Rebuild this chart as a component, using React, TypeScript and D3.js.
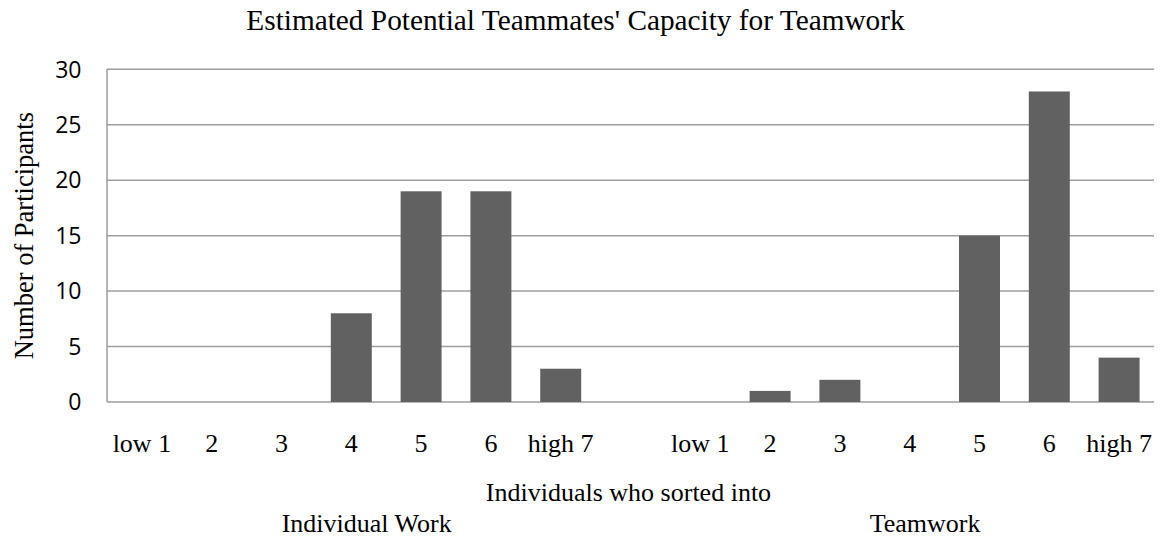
import React from "react";
import * as d3 from "d3";

const ratingLabels = ["low 1", "2", "3", "4", "5", "6", "high 7"];
const individualWork = [0, 0, 0, 8, 19, 19, 3];
const teamwork = [0, 1, 2, 0, 15, 28, 4];
const groupNames = ["Individual Work", "Teamwork"];
const yTicks = [0, 5, 10, 15, 20, 25, 30];
const title = "Estimated Potential Teammates' Capacity for Teamwork";
const yTitle = "Number of Participants";
const xTitle = "Individuals who sorted into";

type Slot = { key: string; label: string; value: number | null; group: number };

const slots: Slot[] = [
  ...ratingLabels.map((l, i) => ({ key: `g0-${i}`, label: l, value: individualWork[i], group: 0 })),
  { key: "gap", label: "", value: null, group: -1 },
  ...ratingLabels.map((l, i) => ({ key: `g1-${i}`, label: l, value: teamwork[i], group: 1 })),
];

export default function App() {
  const W = 1160;
  const H = 537;
  const left = 107;
  const right = 1154;
  const top = 69.3;
  const bottom = 402;
  const pad = 0.413;
  const serif = "'Liberation Serif', 'Times New Roman', serif";
  const sans = "'Open Sans', 'Liberation Sans', sans-serif";

  const x = d3
    .scaleBand<string>()
    .domain(slots.map((s) => s.key))
    .range([left, right])
    .paddingInner(pad)
    .paddingOuter(pad / 2);
  const y = d3.scaleLinear().domain([0, 30]).range([bottom, top]);
  const step = x.step();
  const center = (k: string) => (x(k) as number) + x.bandwidth() / 2;

  const groupCenter = (g: number) => {
    const ks = slots.filter((s) => s.group === g).map((s) => center(s.key));
    return (d3.min(ks)! + d3.max(ks)!) / 2;
  };

  return (
    <svg
      width={W}
      height={H}
      style={{ position: "absolute", left: 0, top: 0, background: "#fff" }}
    >
      <text x={575.5} y={30} textAnchor="middle" fontFamily={serif} fontSize={29.3} fill="#000">
        {title}
      </text>
      {yTicks.map((t) => (
        <g key={t}>
          <line x1={left} x2={right} y1={y(t)} y2={y(t)} stroke="#9d9d9d" strokeWidth={1.5} />
          <text
            x={81.5}
            y={y(t)}
            dy="0.36em"
            textAnchor="end"
            fontFamily={sans}
            fontSize={23}
            fill="#000"
          >
            {t}
          </text>
        </g>
      ))}
      <line x1={left} x2={left} y1={y(30)} y2={y(0)} stroke="#9d9d9d" strokeWidth={1.5} />
      {slots
        .filter((s) => s.value !== null && (s.value as number) > 0)
        .map((s) => (
          <rect
            key={s.key}
            x={x(s.key)}
            y={y(s.value as number)}
            width={x.bandwidth()}
            height={y(0) - y(s.value as number)}
            fill="#616161"
          />
        ))}
      {slots.map((s) => (
        <text
          key={"l" + s.key}
          x={center(s.key)}
          y={452}
          textAnchor="middle"
          fontFamily={serif}
          fontSize={26}
          fill="#000"
        >
          {s.label}
        </text>
      ))}
      <text x={(left + right) / 2 - 2} y={501} textAnchor="middle" fontFamily={serif} fontSize={26} fill="#000">
        {xTitle}
      </text>
      {groupNames.map((g, i) => (
        <text
          key={g}
          x={groupCenter(i) + step * 0.22}
          y={532}
          textAnchor="middle"
          fontFamily={serif}
          fontSize={26}
          fill="#000"
        >
          {g}
        </text>
      ))}
      <text
        transform={`translate(33,${(top + bottom) / 2}) rotate(-90)`}
        textAnchor="middle"
        fontFamily={serif}
        fontSize={26.5}
        fill="#000"
      >
        {yTitle}
      </text>
    </svg>
  );
}
